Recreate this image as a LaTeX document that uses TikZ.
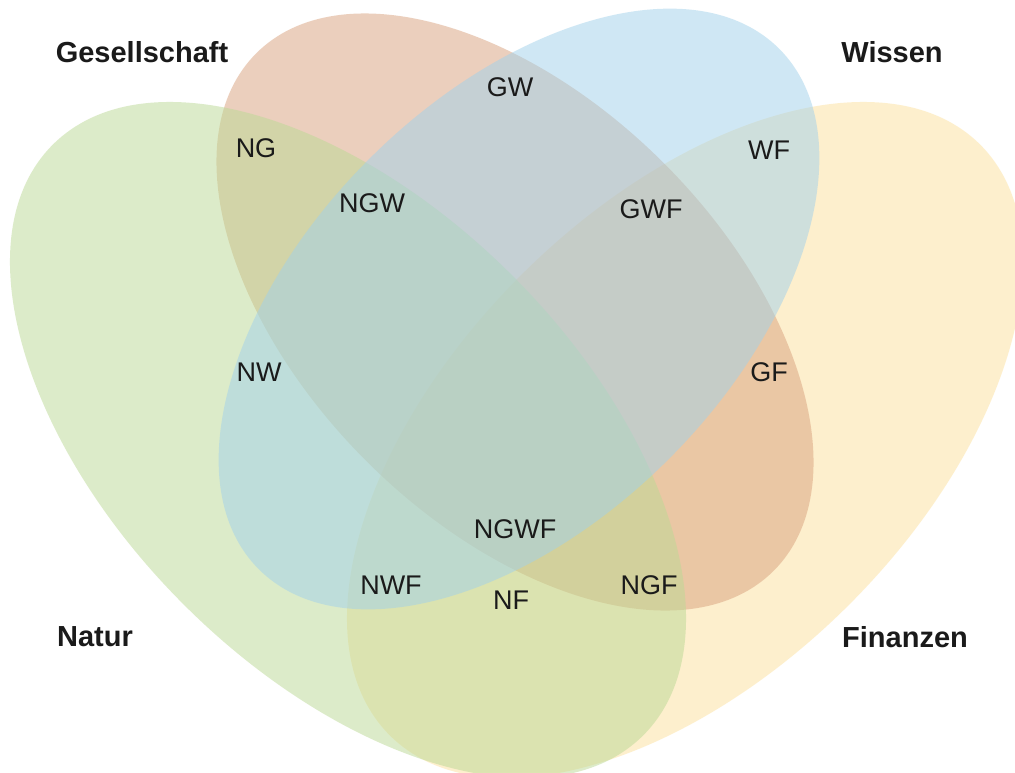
\documentclass[tikz,border=0pt]{standalone}
\usepackage{fontspec}
\setmainfont{Liberation Sans}
\definecolor{cyellow}{RGB}{253,225,157}
\definecolor{csalmon}{RGB}{217,161,125}
\definecolor{cgreen}{RGB}{187,217,149}
\definecolor{cblue}{RGB}{161,209,235}
\definecolor{ink}{RGB}{26,26,26}
\begin{document}
\begin{tikzpicture}[x=1pt,y=-1pt,
  setshape/.style={fill=#1, fill opacity=0.5},
  setlabel/.style={font=\fontsize{29}{33}\selectfont\bfseries, text=ink, inner sep=0pt},
  regionlabel/.style={font=\fontsize{27}{32}\selectfont, text=ink, inner sep=0pt}]
\useasboundingbox (0,0) rectangle (1015,772);
\fill[white] (0,0) rectangle (1015,772);
\begin{scope}
\clip (0,0) rectangle (1015,772);
% Finanzen (yellow)
\fill[setshape=cyellow, rotate around={45:(685,440)}] (685,440) ellipse [x radius=417.6pt, y radius=232.5pt];
% Gesellschaft (salmon)
\fill[setshape=csalmon, rotate around={-45:(515,312)}] (515,312) ellipse [x radius=365.9pt, y radius=210.5pt];
% Natur (green)
\fill[setshape=cgreen, rotate around={-45:(348,440)}] (348,440) ellipse [x radius=417.6pt, y radius=232.5pt];
% Wissen (blue)
\fill[setshape=cblue, rotate around={45:(519,309)}] (519,309) ellipse [x radius=368pt, y radius=212pt];
\end{scope}
% set names
\node[setlabel] (gesellschaft) at (142,52) {Gesellschaft};
\node[setlabel] (wissen) at (892,52) {Wissen};
\node[setlabel] (natur) at (95,637) {Natur};
\node[setlabel] (finanzen) at (905,637) {Finanzen};
% region labels
\node[regionlabel] (gw) at (510,87) {GW};
\node[regionlabel] (ng) at (256,148) {NG};
\node[regionlabel] (wf) at (769,150) {WF};
\node[regionlabel] (ngw) at (372,203) {NGW};
\node[regionlabel] (gwf) at (651,209) {GWF};
\node[regionlabel] (nw) at (259,372) {NW};
\node[regionlabel] (gf) at (769,372) {GF};
\node[regionlabel] (ngwf) at (515,529) {NGWF};
\node[regionlabel] (nwf) at (391,585) {NWF};
\node[regionlabel] (nf) at (511,600) {NF};
\node[regionlabel] (ngf) at (649,585) {NGF};
\end{tikzpicture}
\end{document}
